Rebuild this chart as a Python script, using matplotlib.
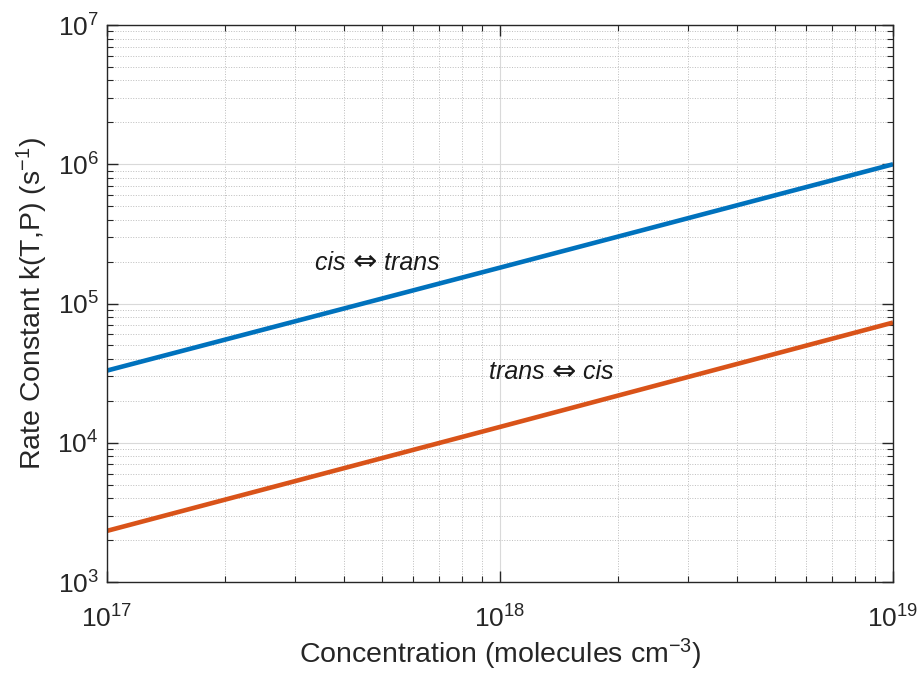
import matplotlib
matplotlib.use('Agg')
import matplotlib.pyplot as plt
from matplotlib.offsetbox import TextArea, HPacker, AnnotationBbox

plt.rcParams['font.family'] = ['Liberation Sans', 'DejaVu Sans']
plt.rcParams['mathtext.fontset'] = 'custom'
plt.rcParams['mathtext.rm'] = 'Liberation Sans'
plt.rcParams['mathtext.it'] = 'Liberation Sans:italic'
plt.rcParams['mathtext.default'] = 'regular'

# 数据
conc = [1e17, 1e18, 1e19]
k_cis_trans = [3.3e4, 1.81e5, 1.0e6]
k_trans_cis = [2.33e3, 1.30e4, 7.3e4]

BLUE = '#0072BD'
ORANGE = '#D95319'
TXT = '#262626'

fig = plt.figure(figsize=(9.24, 6.76), dpi=100)
ax = fig.add_axes([0.1158, 0.139, 0.8507, 0.824])

ax.loglog(conc, k_cis_trans, color=BLUE, linewidth=3.3, solid_capstyle='butt')
ax.loglog(conc, k_trans_cis, color=ORANGE, linewidth=3.3, solid_capstyle='butt')

ax.set_xlim(1e17, 1e19)
ax.set_ylim(1e3, 1e7)

ax.grid(True, which='major', color='#d9d9d9', linestyle='-', linewidth=0.8)
ax.grid(True, which='minor', color='#bdbdbd', linestyle=':', linewidth=0.7)
ax.set_axisbelow(True)

for s in ax.spines.values():
    s.set_color(TXT)
    s.set_linewidth(1.0)

ax.tick_params(which='both', direction='in', top=True, right=True,
               colors=TXT, labelsize=19)
ax.tick_params(which='major', length=8, width=1.0)
ax.tick_params(which='minor', length=4.5, width=0.8)
ax.tick_params(axis='x', which='major', pad=17)
ax.tick_params(axis='y', which='major', pad=6)

ax.set_xlabel('Concentration (molecules cm$^{-3}$)', fontsize=20.5, color=TXT, labelpad=3)
ax.set_ylabel('Rate Constant k(T,P) (s$^{-1}$)', fontsize=20.5, color=TXT, labelpad=5)


def reaction_label(x, y, left, right):
    tp = dict(fontsize=18, style='italic', color='#1a1a1a')
    parts = [TextArea(left + ' ', textprops=tp),
             TextArea('\u21d4', textprops=dict(fontsize=21, color='#1a1a1a',
                                                 family='DejaVu Sans')),
             TextArea(' ' + right, textprops=tp)]
    box = HPacker(children=parts, sep=0, pad=0, align='baseline')
    ab = AnnotationBbox(box, (x, y), frameon=False, pad=0,
                        box_alignment=(0.5, 0.5))
    ax.add_artist(ab)


reaction_label(4.87e17, 2.0e5, 'cis', 'trans')
reaction_label(1.35e18, 3.25e4, 'trans', 'cis')

plt.savefig('out.png', dpi=100)
plt.close()
